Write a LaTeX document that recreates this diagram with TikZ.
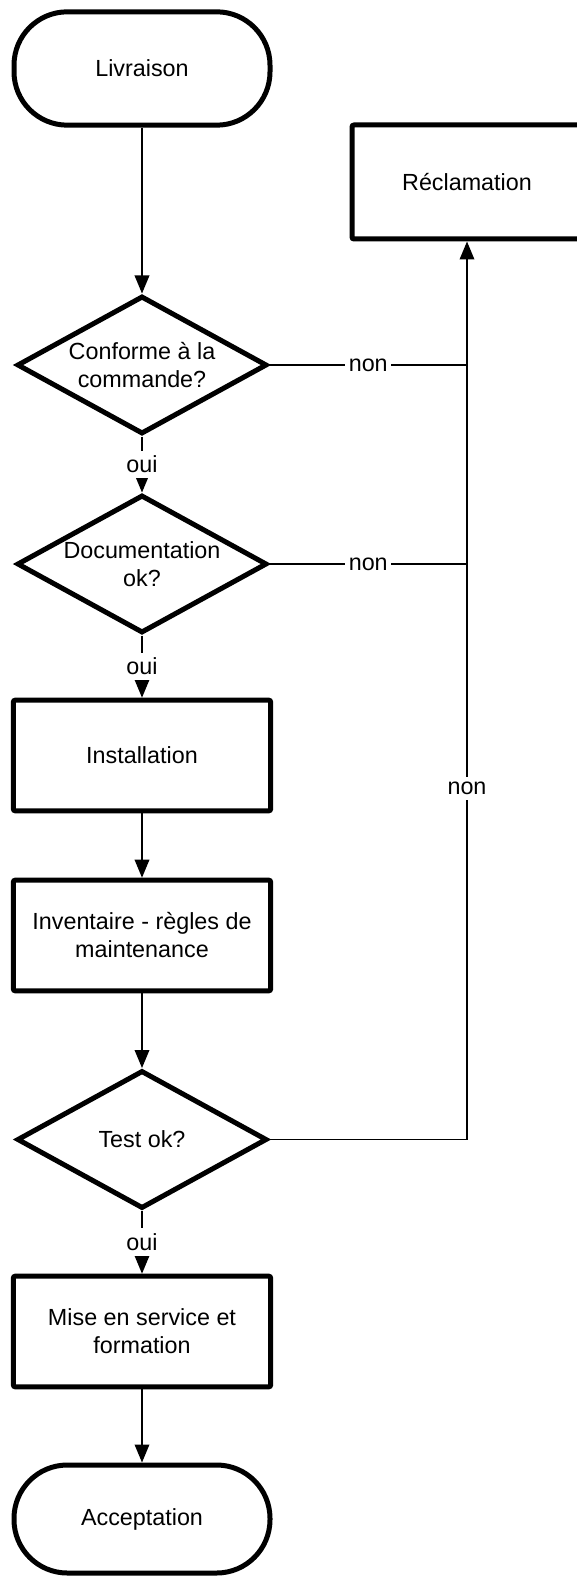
\documentclass[tikz,border=0pt]{standalone}
\usepackage{fontspec}
\setmainfont{Liberation Sans}
\usetikzlibrary{shapes.geometric,arrows.meta}

\tikzset{
  terminal/.style={draw=black, line width=3.75pt, rounded corners=40pt,
    minimum width=192pt, minimum height=85pt, align=center},
  process/.style={draw=black, line width=3.75pt, rounded corners=1.5pt,
    minimum width=193pt, minimum height=83pt, align=center},
  decision/.style={diamond, draw=black, line width=3.75pt, aspect=1.8,
    inner sep=0pt, minimum width=187.5pt, minimum height=103.5pt, align=center},
  flow/.style={line width=1pt, -{Triangle[width=11pt,length=13.5pt]}},
  link/.style={line width=1pt},
  answer/.style={fill=white, inner xsep=2.5pt, inner ysep=4pt},
}

\begin{document}
\begin{tikzpicture}[x=0.75pt, y=-0.75pt, font=\fontsize{17.5pt}{21pt}\selectfont]
  \useasboundingbox (0,0) rectangle (577,1576);

  % Main column
  \node[terminal] (livraison) at (142, 68.5) {Livraison};
  \node[decision] (conforme) at (142, 365) {Conforme à la\\commande?};
  \node[decision] (docu) at (142, 564) {Documentation\\ok?};
  \node[process] (install) at (142, 755.5) {Installation};
  \node[process] (inventaire) at (142, 935.5) {Inventaire - règles de\\maintenance};
  \node[decision] (test) at (142, 1139.5) {Test ok?};
  \node[process] (service) at (142, 1331.5) {Mise en service et\\formation};
  \node[terminal, minimum height=81pt] (acceptation) at (142, 1519) {Acceptation};

  \draw[flow] (livraison) -- (conforme);
  \draw[flow] (conforme) -- node[answer] {oui} (docu);
  \draw[flow] (docu) -- node[answer] {oui} (install);
  \draw[flow] (install) -- (inventaire);
  \draw[flow] (inventaire) -- (test);
  \draw[flow] (test) -- node[answer] {oui} (service);
  \draw[flow] (service) -- (acceptation);

  % Claim branch
  \node[process, minimum width=172.5pt, minimum height=85.5pt] (reclamation) at (467, 182) {Réclamation};

  \coordinate (j1) at (467, 365);
  \coordinate (j2) at (467, 564);
  \coordinate (j3) at (467, 1139.5);

  \draw[link] (conforme.east) -- node[answer] {non} (j1);
  \draw[link] (docu.east) -- node[answer] {non} (j2);
  \draw[flow] (test.east) -- (j3) -- node[answer, pos=0.61] {non} (j2) -- (j1) -- (reclamation.south);
\end{tikzpicture}
\end{document}
